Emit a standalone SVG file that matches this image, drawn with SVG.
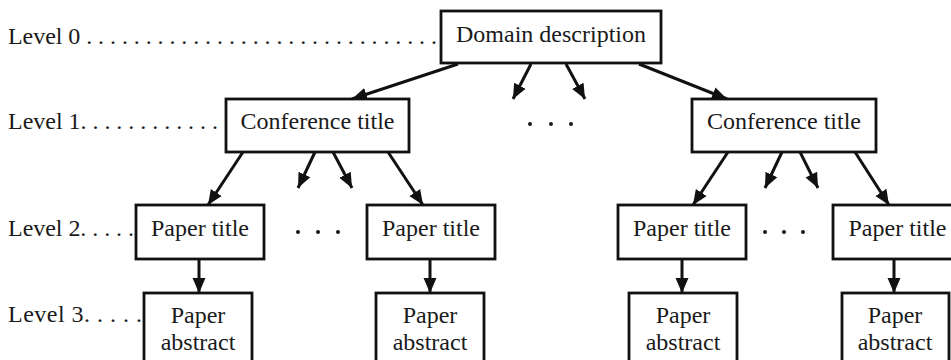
<svg xmlns="http://www.w3.org/2000/svg" width="951" height="360" viewBox="0 0 951 360">
  <style>
    text { font-family: 'Liberation Serif', 'DejaVu Serif', serif; font-size: 24px; fill: #1a1a1a; }
    .mid { text-anchor: middle; }
    .box { fill: #ffffff; stroke: #111111; stroke-width: 2.8; }
    .edge { stroke: #111111; stroke-width: 3; fill: none; marker-end: url(#head); }
    .dot { fill: #1a1a1a; }
  </style>
  <defs>
    <marker id="head" markerUnits="userSpaceOnUse" markerWidth="16" markerHeight="16" viewBox="0 0 16 16" refX="15" refY="8" orient="auto">
      <path d="M0,1.5 L15,8 L0,14.5 Z" fill="#111111"/>
    </marker>
  </defs>
  <rect width="951" height="360" fill="#ffffff"/>

  <!-- level labels with dotted leaders -->
  <g id="levels">
    <text x="8" y="44" textLength="429" lengthAdjust="spacing">Level 0 . . . . . . . . . . . . . . . . . . . . . . . . . . . . . .</text>
    <text x="8" y="129" textLength="210" lengthAdjust="spacing">Level 1. . . . . . . . . . . .</text>
    <text x="8" y="236" textLength="126" lengthAdjust="spacing">Level 2. . . . .</text>
    <text x="8" y="322" textLength="134" lengthAdjust="spacing">Level 3. . . . .</text>
  </g>

  <!-- connectors -->
  <g id="connectors">
    <line class="edge" x1="458" y1="64" x2="352" y2="99"/>
    <line class="edge" x1="531" y1="64" x2="513" y2="99"/>
    <line class="edge" x1="566" y1="64" x2="585" y2="99"/>
    <line class="edge" x1="639" y1="64" x2="727" y2="99"/>

    <line class="edge" x1="243" y1="152" x2="208" y2="205"/>
    <line class="edge" x1="315" y1="152" x2="298" y2="188"/>
    <line class="edge" x1="333" y1="152" x2="352" y2="188"/>
    <line class="edge" x1="388" y1="152" x2="423" y2="205"/>

    <line class="edge" x1="728" y1="152" x2="693" y2="205"/>
    <line class="edge" x1="782" y1="152" x2="765" y2="188"/>
    <line class="edge" x1="800" y1="152" x2="818" y2="188"/>
    <line class="edge" x1="855" y1="152" x2="889" y2="205"/>

    <line class="edge" x1="199" y1="259" x2="199" y2="293"/>
    <line class="edge" x1="430" y1="259" x2="430" y2="293"/>
    <line class="edge" x1="682" y1="259" x2="682" y2="293"/>
    <line class="edge" x1="894" y1="259" x2="894" y2="293"/>
  </g>

  <!-- ellipses between siblings -->
  <g id="ellipses">
    <circle class="dot" cx="530" cy="124" r="2"/>
    <circle class="dot" cx="551" cy="124" r="2"/>
    <circle class="dot" cx="571" cy="124" r="2"/>
    <circle class="dot" cx="298" cy="232" r="2"/>
    <circle class="dot" cx="318" cy="232" r="2"/>
    <circle class="dot" cx="338" cy="232" r="2"/>
    <circle class="dot" cx="765" cy="232" r="2"/>
    <circle class="dot" cx="784" cy="232" r="2"/>
    <circle class="dot" cx="803" cy="232" r="2"/>
  </g>

  <g id="domain">
    <rect class="box" x="441" y="11" width="220" height="52"/>
    <text class="mid" x="551" y="42">Domain description</text>
  </g>

  <g id="conf-left">
    <rect class="box" x="226" y="99" width="183" height="53"/>
    <text class="mid" x="317.5" y="129">Conference title</text>
  </g>
  <g id="conf-right">
    <rect class="box" x="692" y="99" width="184" height="53"/>
    <text class="mid" x="784" y="129">Conference title</text>
  </g>

  <g id="paper-1">
    <rect class="box" x="136" y="205" width="128" height="54"/>
    <text class="mid" x="200" y="236">Paper title</text>
  </g>
  <g id="paper-2">
    <rect class="box" x="367" y="205" width="128" height="54"/>
    <text class="mid" x="431" y="236">Paper title</text>
  </g>
  <g id="paper-3">
    <rect class="box" x="618" y="205" width="128" height="54"/>
    <text class="mid" x="682" y="236">Paper title</text>
  </g>
  <g id="paper-4">
    <rect class="box" x="833" y="205" width="130" height="54"/>
    <text class="mid" x="897.5" y="236">Paper title</text>
  </g>

  <g id="abstract-1">
    <rect class="box" x="144" y="293" width="108" height="80"/>
    <text class="mid" x="198" y="323">Paper</text>
    <text class="mid" x="198" y="350">abstract</text>
  </g>
  <g id="abstract-2">
    <rect class="box" x="376" y="293" width="108" height="80"/>
    <text class="mid" x="430" y="323">Paper</text>
    <text class="mid" x="430" y="350">abstract</text>
  </g>
  <g id="abstract-3">
    <rect class="box" x="629" y="293" width="108" height="80"/>
    <text class="mid" x="683" y="323">Paper</text>
    <text class="mid" x="683" y="350">abstract</text>
  </g>
  <g id="abstract-4">
    <rect class="box" x="842" y="293" width="107" height="80"/>
    <text class="mid" x="895" y="323">Paper</text>
    <text class="mid" x="895" y="350">abstract</text>
  </g>
</svg>
